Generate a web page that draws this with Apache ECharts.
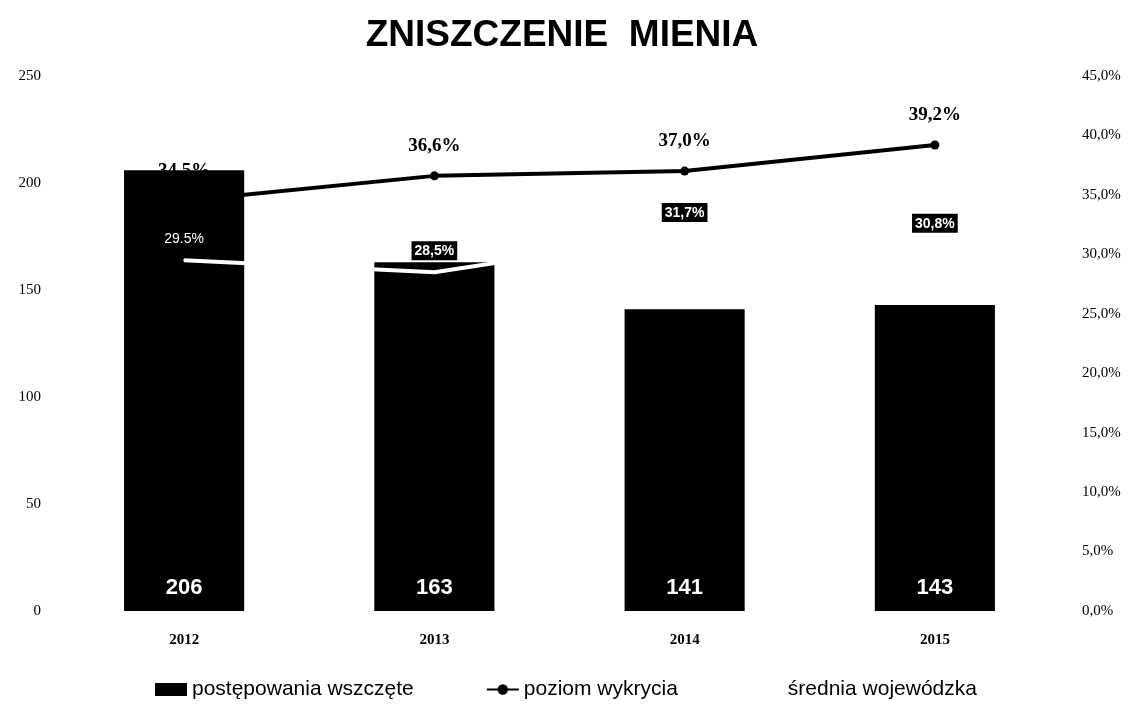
<!DOCTYPE html>
<html>
<head>
<meta charset="utf-8">
<title>Zniszczenie mienia</title>
<script src="https://cdn.jsdelivr.net/npm/echarts@6/dist/echarts.min.js"></script>
<style>
  html, body { margin: 0; padding: 0; background: #fff; }
  #main { width: 1134px; height: 707px; }
</style>
</head>
<body>
<div id="main"></div>
<script>
// dane
var years = ["2012", "2013", "2014", "2015"];
var cases = [206, 163, 141, 143];          // postępowania wszczęte
var detection = [34.5, 36.6, 37.0, 39.2];  // poziom wykrycia (%)
var provinceAvg = [29.5, 28.5, 31.7, 30.8]; // średnia wojewódzka (%)
var leftTicks = [0, 250, 50];
var rightTicks = [0, 45, 5];

function pct(v) {
  return v.toFixed(1).replace(".", ",") + "%";
}

var chart = echarts.init(document.getElementById("main"));

// pierwsza etykieta średniej bez ramki, z kropką
var avgData = provinceAvg.map(function (v, i) {
  if (i === 0) {
    return {
      value: v,
      label: {
        backgroundColor: "transparent",
        fontWeight: "normal",
        fontSize: 14,
        formatter: v.toFixed(1) + "%"
      }
    };
  }
  return v;
});

var option = {
  animation: false,
  backgroundColor: "#fff",
  title: {
    text: "ZNISZCZENIE  MIENIA",
    left: 557,
    textAlign: "center",
    top: 12,
    textStyle: {
      fontFamily: "Liberation Sans",
      fontWeight: 900,
      fontSize: 37,
      color: "#000"
    }
  },
  legend: {
    bottom: 2,
    left: 150,
    itemGap: 72,
    itemWidth: 32,
    itemHeight: 13,
    textStyle: {
      fontFamily: "Liberation Sans",
      fontSize: 21,
      color: "#000"
    },
    data: [
      { name: "postępowania wszczęte", icon: "rect" },
      { name: "poziom wykrycia" },
      { name: "średnia wojewódzka" }
    ]
  },
  grid: {
    left: 59,
    right: 74,
    top: 76,
    bottom: 96
  },
  xAxis: {
    type: "category",
    data: years,
    axisLine: { show: false },
    axisTick: { show: false },
    axisLabel: {
      margin: 22,
      fontFamily: "Liberation Serif",
      fontWeight: "bold",
      fontSize: 15,
      color: "#000"
    }
  },
  yAxis: [
    {
      type: "value",
      min: leftTicks[0],
      max: leftTicks[1],
      interval: leftTicks[2],
      splitLine: { show: false },
      axisLine: { show: false },
      axisTick: { show: false },
      axisLabel: {
        margin: 18,
        fontFamily: "Liberation Serif",
        fontSize: 15,
        color: "#000"
      }
    },
    {
      type: "value",
      min: rightTicks[0],
      max: rightTicks[1],
      interval: rightTicks[2],
      splitLine: { show: false },
      axisLine: { show: false },
      axisTick: { show: false },
      axisLabel: {
        margin: 22,
        fontFamily: "Liberation Serif",
        fontSize: 15,
        color: "#000",
        formatter: function (v) { return pct(v); }
      }
    }
  ],
  series: [
    {
      name: "postępowania wszczęte",
      type: "bar",
      data: cases,
      barWidth: "48%",
      zlevel: 1,
      itemStyle: { color: "#000" },
      label: {
        show: true,
        position: "insideBottom",
        distance: 12,
        color: "#fff",
        fontFamily: "Liberation Sans",
        fontWeight: "bold",
        fontSize: 22
      }
    },
    {
      name: "poziom wykrycia",
      type: "line",
      yAxisIndex: 1,
      data: detection,
      zlevel: 0,
      symbol: "circle",
      symbolSize: 9,
      lineStyle: { color: "#000", width: 4 },
      itemStyle: { color: "#000" },
      label: {
        show: true,
        position: "top",
        distance: 16,
        color: "#000",
        fontFamily: "Liberation Serif",
        fontWeight: "bold",
        fontSize: 19,
        formatter: function (p) { return pct(p.value); }
      }
    },
    {
      name: "średnia wojewódzka",
      type: "line",
      yAxisIndex: 1,
      data: avgData,
      zlevel: 2,
      symbol: "circle",
      symbolSize: 2,
      showSymbol: true,
      lineStyle: { color: "#fff", width: 4 },
      itemStyle: { color: "#fff" },
      label: {
        show: true,
        position: "top",
        distance: 11,
        color: "#fff",
        backgroundColor: "#000",
        padding: [3, 3, 2, 3],
        fontFamily: "Liberation Sans",
        fontWeight: "bold",
        fontSize: 14,
        formatter: function (p) { return pct(p.value); }
      }
    }
  ]
};

chart.setOption(option);
</script>
</body>
</html>
